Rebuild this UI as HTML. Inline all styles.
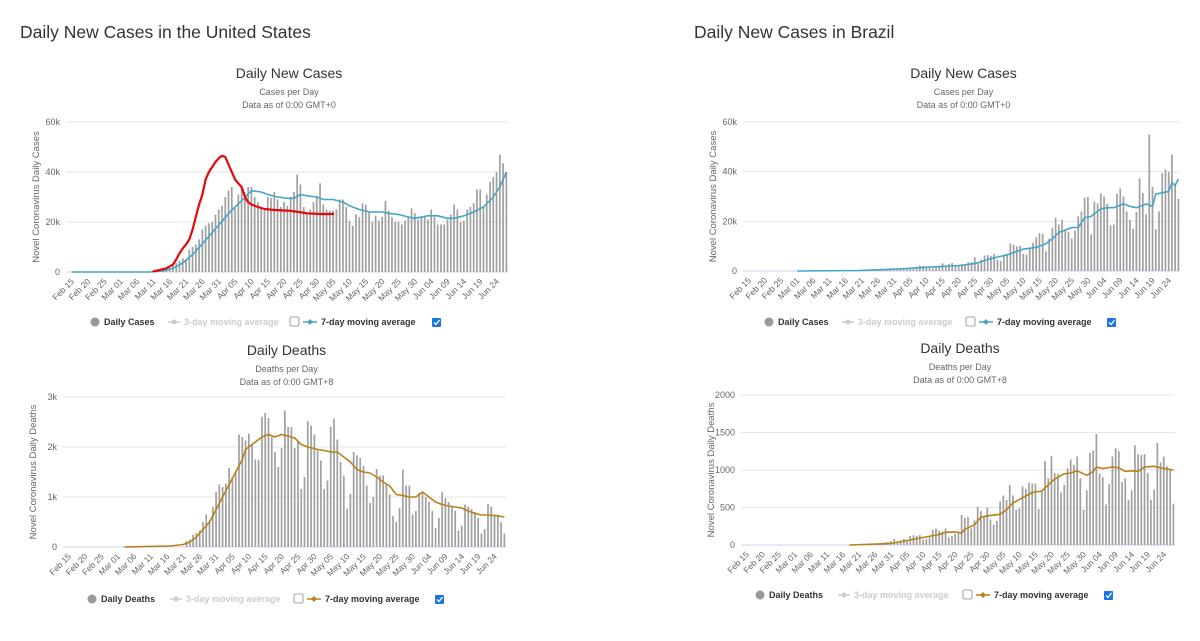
<!DOCTYPE html>
<html><head><meta charset="utf-8"><style>
html,body{margin:0;padding:0;background:#fff;}
svg{display:block;font-family:"Liberation Sans",sans-serif;}
</style></head><body>
<svg id="root" width="1200" height="641" viewBox="0 0 1200 641">
<text x="20" y="38" font-size="17.5" fill="#333">Daily New Cases in the United States</text>
<text x="694" y="38" font-size="17.5" fill="#333">Daily New Cases in Brazil</text>
</svg>
<script>
// ---- shared categories ----
const tickLabels = ["Feb 15","Feb 20","Feb 25","Mar 01","Mar 06","Mar 11","Mar 16","Mar 21","Mar 26","Mar 31","Apr 05","Apr 10","Apr 15","Apr 20","Apr 25","Apr 30","May 05","May 10","May 15","May 20","May 25","May 30","Jun 04","Jun 09","Jun 14","Jun 19","Jun 24"];
const numDays = 134; // Feb 15 .. Jun 27

// ---- US daily cases (k), ending Jun 27 ----
const usCases = [0,0,0.02,0.03,0.05,0.07,0.1,0.1,0.2,0.3,
0.4,0.5,0.6,0.8,1.0,1.5,2.5,3.5,4.5,5.5,5,9,10,11,13,17,18.5,19.5,20,23,25,
26.5,30,32.5,34,25.5,31,33.5,32,34,34,30,28,26,25,30,29.5,32,29,26,28,26.5,30,32,39,35,26,24,25,28,30.5,
35.5,27,25,24.5,24.5,25,29,29,26,20.5,18.5,23,22,27.5,27,24,20,22.5,20.5,22,28.5,24.5,22,20,20,19,20.5,22,25.5,23.5,21,
22,22,21,25,22,19,19,19,21,23,27,25,20,20.5,25,26,27.5,33,33,26,31,36,38,40,47,43.5,40];
const usCasesMaDays = ["Feb 15","Mar 10","Mar 14","Mar 17","Mar 20","Mar 23","Mar 26","Mar 29","Apr 01","Apr 04","Apr 07","Apr 10","Apr 13","Apr 15","Apr 18","Apr 21","Apr 23","Apr 25","Apr 27","Apr 30","May 02","May 05","May 08","May 10","May 13","May 16","May 20","May 22","May 25","May 28","May 30","Jun 03","Jun 06","Jun 09","Jun 11","Jun 14","Jun 17","Jun 20","Jun 23","Jun 25","Jun 27"];
const usCasesMaVals = [0,0,0.5,1.5,3.6,7,11.3,15.8,20.3,24.8,28.5,32.5,32,31,30,29.5,29.5,31,30.5,30,29,29,28,26.5,25,24,24,23.5,23,22,21.5,22.5,22.5,21.5,21.5,22.5,24,26,30,34,40];
const redDays = ["Mar 11","Mar 13","Mar 15","Mar 17","Mar 18","Mar 19","Mar 20","Mar 21","Mar 22","Mar 23","Mar 24","Mar 25","Mar 26","Mar 27","Mar 28","Mar 29","Mar 30","Mar 31","Apr 01","Apr 02","Apr 03","Apr 04","Apr 05","Apr 06","Apr 07","Apr 08","Apr 09","Apr 10","Apr 12","Apr 14","Apr 17","Apr 22","Apr 27","May 01","May 05"];
const redVals = [0.3,0.8,1.5,3,5,7.5,9.5,11,13,17,22,27,31,37,40,42,44,45.5,46.5,46,43,40,37,35.5,34,30,28,27,26,25.2,24.8,24.5,23.5,23.2,23.2];

// ---- US daily deaths (k), ending Jun 27 ----
const usDeaths = [0.12,0.15,0.25,0.28,0.33,0.5,0.65,0.5,0.8,1.1,1.25,
1.2,1.27,1.58,1.4,1.5,2.25,2.2,2.13,2.27,2.05,1.75,1.74,2.6,2.68,2.58,2.2,1.9,1.6,1.98,2.73,2.4,2.4,1.98,2.1,1.16,1.4,2.52,2.43,2.25,1.93,
1.73,1.16,1.33,2.4,2.57,2.15,1.7,1.43,0.77,1.06,1.9,1.83,1.78,1.62,1.23,0.88,1.0,1.56,1.43,1.43,1.25,1.05,0.62,0.5,0.78,1.55,1.23,1.23,0.65,0.72,1.08,
1.1,1.0,0.9,0.72,0.38,0.58,1.1,0.98,0.9,0.82,0.72,0.33,0.43,0.85,0.8,0.76,0.7,0.58,0.27,0.36,0.86,0.81,0.65,0.65,0.5,0.27];
const usDeathsMaDays = ["Mar 03","Mar 17","Mar 21","Mar 23","Mar 25","Mar 27","Mar 29","Mar 31","Apr 02","Apr 04","Apr 06","Apr 08","Apr 09","Apr 10","Apr 12","Apr 14","Apr 16","Apr 18","Apr 20","Apr 22","Apr 24","Apr 26","Apr 28","May 01","May 03","May 05","May 07","May 09","May 11","May 13","May 15","May 17","May 19","May 21","May 23","May 25","May 27","May 29","May 31","Jun 02","Jun 04","Jun 06","Jun 08","Jun 10","Jun 12","Jun 14","Jun 16","Jun 18","Jun 20","Jun 22","Jun 24","Jun 27"];
const usDeathsMaVals = [0,0.02,0.05,0.1,0.2,0.35,0.5,0.75,1.0,1.25,1.5,1.75,1.95,2.0,2.1,2.2,2.25,2.2,2.25,2.22,2.18,2.05,2.0,1.95,1.93,1.9,1.9,1.8,1.7,1.55,1.5,1.48,1.4,1.3,1.22,1.05,1.03,1.0,1.0,1.1,1.0,0.9,0.85,0.82,0.8,0.78,0.72,0.67,0.64,0.64,0.63,0.6];

// ---- Brazil daily cases (k), ending Jun 27 ----
const brCases = [0.05,0.1,0.1,0.15,0.2,0.2,0.3,0.3,0.35,0.3,0.4,0.45,0.5,0.5,0.6,0.6,
1,1.1,1.2,1.1,1.2,0.9,1.7,2.2,2.0,1.9,1.2,1.0,1.3,1.8,3.1,2.0,2.8,3.2,1.9,1.9,2.3,2.6,3.5,3.5,5.5,3.4,4.6,6.2,6.4,6.0,
6.9,4.6,4.1,6.6,6.9,11.0,10.5,9.9,10.2,6.8,6.6,9.0,11.4,13.5,15.3,15.0,7.9,13.0,17.4,21.4,18.7,20.6,16.5,15.8,13.1,16.3,22.0,24.0,29.5,29.8,
14.7,27.9,27.2,31.2,30.0,27.1,18.4,18.7,31.1,33.2,30.0,24.0,20.6,17.0,23.7,37.3,31.4,22.8,55.0,33.9,16.8,24.0,39.4,40.9,40.0,46.9,35.0,29.0];
const brCasesMaDays = ["Mar 01","Mar 20","Apr 01","Apr 10","Apr 20","Apr 25","Apr 30","May 05","May 10","May 14","May 17","May 19","May 21","May 24","May 25","May 27","May 29","May 31","Jun 03","Jun 05","Jun 07","Jun 10","Jun 12","Jun 14","Jun 17","Jun 19","Jun 20","Jun 22","Jun 24","Jun 25","Jun 26","Jun 27"];
const brCasesMaVals = [0,0.2,0.8,1.5,2.2,3,5,6.5,8.8,9.5,11,13,15.5,17,17.5,17.5,21.5,22,25,25.5,25.5,27,26,25.5,27,26,31,31.5,32,35.5,34.5,37];

// ---- Brazil daily deaths, ending Jun 27 ----
const brDeaths = [5,8,10,12,15,18,20,25,30,35,40,
50,80,50,60,80,60,120,130,120,130,70,80,100,200,220,190,180,220,100,120,150,170,400,360,370,220,330,510,450,380,
500,340,270,320,580,660,600,800,660,470,490,780,750,830,820,820,480,730,1120,890,1190,960,950,700,800,1020,1140,1070,1180,890,470,
730,1230,1260,1480,950,900,540,810,1180,1290,1250,840,890,600,730,1330,1210,1200,1210,960,600,740,1360,1100,1180,1050,1000,550];
const brDeathsMaDays = ["Mar 18","Mar 31","Apr 05","Apr 10","Apr 15","Apr 17","Apr 20","Apr 22","Apr 23","Apr 26","Apr 28","Apr 30","May 04","May 06","May 08","May 11","May 14","May 17","May 19","May 21","May 24","May 26","May 28","May 31","Jun 02","Jun 03","Jun 05","Jun 08","Jun 10","Jun 12","Jun 14","Jun 16","Jun 18","Jun 21","Jun 24","Jun 27"];
const brDeathsMaVals = [0,20,60,100,140,170,175,160,210,270,370,390,410,470,560,630,700,720,800,880,950,960,990,930,980,1040,1020,1040,1030,980,990,980,1040,1050,1020,1000];

const NS = "http://www.w3.org/2000/svg";
const root = document.getElementById('root');
const MON = {Feb:0, Mar:29, Apr:60, May:90, Jun:121};
function dayIndex(s){ const p=s.split(' '); return MON[p[0]] + parseInt(p[1],10) - 15; }
function mk(tag, attrs, parent){ const e=document.createElementNS(NS,tag); for(const k in attrs) e.setAttribute(k,attrs[k]); (parent||root).appendChild(e); return e; }

function drawChart(cfg){
  const g = mk('g',{});
  
  
  const xs = i => cfg.x0 + (cfg.x1-cfg.x0)/numDays*(i+0.5);
  const ys = v => cfg.yB - (v/cfg.max)*(cfg.yB-cfg.yT);
  const cx = (cfg.x0+cfg.x1)/2;
  let t = mk('text',{x:cx,y:cfg.titleY,'font-size':14,fill:'#333','text-anchor':'middle'},g); t.textContent=cfg.title;
   
  t = mk('text',{x:cx,y:cfg.titleY+17,'font-size':9,fill:'#666','text-anchor':'middle'},g); t.textContent=cfg.sub;
   
  t = mk('text',{x:cx,y:cfg.titleY+30,'font-size':9,fill:'#666','text-anchor':'middle'},g); t.textContent=cfg.sub2;
   
  // grid + y ticks
  cfg.yTicks.forEach((v,k)=>{
    const y=ys(v);
    const ln = mk('line',{x1:cfg.x0-4,x2:cfg.x1,y1:y,y2:y,stroke:k===0?'#ccd6eb':'#e6e6e6','stroke-width':1},g);
     
    const tx = mk('text',{x:cfg.x0-10,y:y+3,'font-size':9,fill:'#666','text-anchor':'end'},g); tx.textContent=cfg.yLabels[k];
     
  });
  const yt = mk('text',{x:0,y:0,'font-size':9.5,fill:'#666','text-anchor':'middle',transform:`translate(${cfg.x0-31},${(cfg.yT+cfg.yB)/2}) rotate(-90)`},g);
  yt.textContent=cfg.yTitle;
   
  // x labels
  tickLabels.forEach((lab,k)=>{
    const x = xs(k*5);
    const tx = mk('text',{x:0,y:0,'font-size':8.5,fill:'#666','text-anchor':'end',transform:`translate(${x+3},${cfg.yB+10}) rotate(-45)`},g);
    tx.textContent=lab;
     
  });
  // bars
  const off = numDays - cfg.bars.length;
  cfg.bars.forEach((v,k)=>{
    const i=off+k; const y=ys(v);
    const r = mk('rect',{x:xs(i)-0.85,y:y,width:1.7,height:Math.max(0,cfg.yB-y),fill:'#a0a0a0'},g);
     
  });
  // moving average
  const pts = cfg.maDays.map((d,k)=>xs(dayIndex(d)).toFixed(1)+','+ys(cfg.maVals[k]).toFixed(1)).join(' ');
  const pl = mk('polyline',{points:pts,fill:'none',stroke:cfg.maColor,'stroke-width':1.6,'stroke-linejoin':'round'},g);
   
  if(cfg.red){
    const rp = cfg.red.days.map((d,k)=>xs(dayIndex(d)).toFixed(1)+','+ys(cfg.red.vals[k]).toFixed(1)).join(' ');
    const rl = mk('polyline',{points:rp,fill:'none',stroke:'#e4080a','stroke-width':2.2,'stroke-linejoin':'round','stroke-linecap':'round'},g);
     
  }
  // legend
  const L = cfg.leg, ly = cfg.legY;
  let c = mk('circle',{cx:L[0],cy:ly-3,r:4.5,fill:'#999'},g);
   
  t = mk('text',{x:L[0]+9,y:ly,'font-size':9,'font-weight':'bold',fill:'#333'},g); t.textContent=cfg.legName;
   
  let l = mk('line',{x1:L[1],x2:L[1]+12,y1:ly-3,y2:ly-3,stroke:'#ccc','stroke-width':1.5},g);
   
  c = mk('circle',{cx:L[1]+6,cy:ly-3,r:2.5,fill:'#ccc'},g);
   
  t = mk('text',{x:L[1]+16,y:ly,'font-size':9,'font-weight':'bold',fill:'#ccc'},g); t.textContent='3-day moving average';
   
  let b = mk('rect',{x:L[2],y:ly-8,width:9,height:9,rx:1.5,fill:'#fff',stroke:'#888','stroke-width':0.8},g);
   
  l = mk('line',{x1:L[2]+13,x2:L[2]+27,y1:ly-3,y2:ly-3,stroke:cfg.maColor,'stroke-width':1.5},g);
   
  c = mk('path',{d:`M${L[2]+20} ${ly-6} l3 3 l-3 3 l-3 -3z`,fill:cfg.maColor},g);
   
  t = mk('text',{x:L[2]+31,y:ly,'font-size':9,'font-weight':'bold',fill:'#333'},g); t.textContent='7-day moving average';
   
  b = mk('rect',{x:L[3],y:ly-7,width:9,height:9,rx:1,fill:'#1a73e8'},g);
   
  const ck = mk('path',{d:`M${L[3]+2} ${ly-2.5} l2 2 l3.5 -4.5`,fill:'none',stroke:'#fff','stroke-width':1.4},g);
   
}

drawChart({name:'us-cases-chart',x0:70,x1:508,yT:122,yB:272,max:60,yTicks:[0,20,40,60],yLabels:['0','20k','40k','60k'],
  title:'Daily New Cases',sub:'Cases per Day',sub2:'Data as of 0:00 GMT+0',titleY:78,yTitle:'Novel Coronavirus Daily Cases',
  bars:usCases,maDays:usCasesMaDays,maVals:usCasesMaVals,maColor:'#45a5c8',red:{days:redDays,vals:redVals},
  legY:325,leg:[95,168,290,432],legName:'Daily Cases'});
drawChart({name:'us-deaths-chart',x0:67,x1:506,yT:397,yB:547,max:3,yTicks:[0,1,2,3],yLabels:['0','1k','2k','3k'],
  title:'Daily Deaths',sub:'Deaths per Day',sub2:'Data as of 0:00 GMT+8',titleY:355,yTitle:'Novel Coronavirus Daily Deaths',
  bars:usDeaths,maDays:usDeathsMaDays,maVals:usDeathsMaVals,maColor:'#b8801a',
  legY:602,leg:[92,170,294,435],legName:'Daily Deaths'});
drawChart({name:'brazil-cases-chart',x0:747,x1:1180,yT:122,yB:271,max:60,yTicks:[0,20,40,60],yLabels:['0','20k','40k','60k'],
  title:'Daily New Cases',sub:'Cases per Day',sub2:'Data as of 0:00 GMT+0',titleY:78,yTitle:'Novel Coronavirus Daily Cases',
  bars:brCases,maDays:brCasesMaDays,maVals:brCasesMaVals,maColor:'#45a5c8',
  legY:325,leg:[769,842,966,1107],legName:'Daily Cases'});
drawChart({name:'brazil-deaths-chart',x0:745,x1:1175,yT:395,yB:545,max:2000,yTicks:[0,500,1000,1500,2000],yLabels:['0','500','1000','1500','2000'],
  title:'Daily Deaths',sub:'Deaths per Day',sub2:'Data as of 0:00 GMT+8',titleY:353,yTitle:'Novel Coronavirus Daily Deaths',
  bars:brDeaths,maDays:brDeathsMaDays,maVals:brDeathsMaVals,maColor:'#b8801a',
  legY:598,leg:[760,838,963,1104],legName:'Daily Deaths'});
</script>
</body></html>
